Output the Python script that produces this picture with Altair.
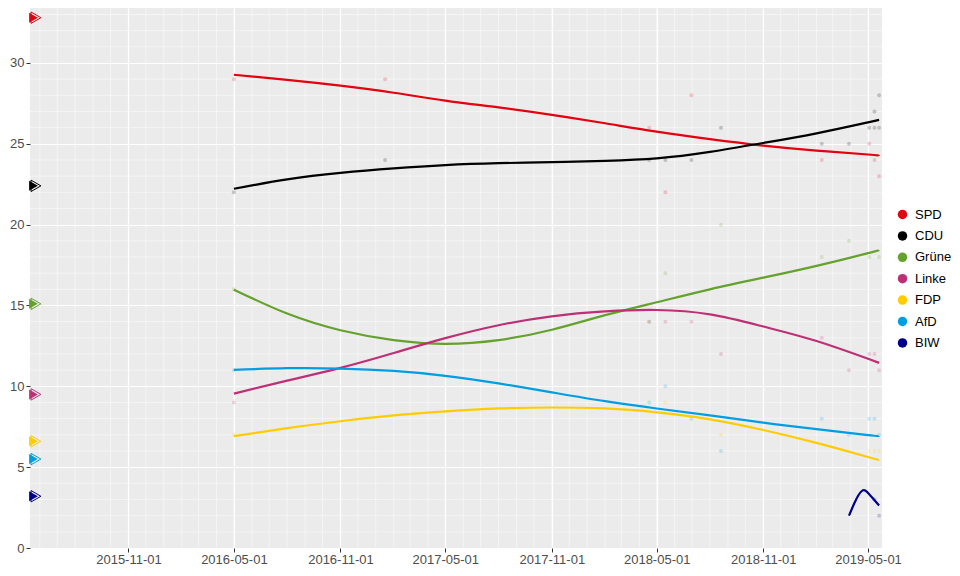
import altair as alt
import pandas as pd

parties = ["SPD", "CDU", "Grüne", "Linke", "FDP", "AfD", "BIW"]
party_colors = ["#E3000F", "#000000", "#64A12D", "#BE3075", "#FFCC00", "#009EE0", "#00008B"]

# 2015 election result markers
election_date = "2015-05-21"
election_result = [32.8, 22.4, 15.1, 9.5, 6.6, 5.5, 3.2]

# smoothed trends
trend_dates = ["2016-05-01", "2016-08-01", "2016-11-01", "2017-02-01", "2017-05-01",
               "2017-08-01", "2017-11-01", "2018-02-01", "2018-05-01", "2018-08-01",
               "2018-11-01", "2019-02-01", "2019-05-01", "2019-05-20"]
trend_spd = [29.27, 28.96, 28.6, 28.16, 27.67, 27.25, 26.79, 26.27, 25.75, 25.29, 24.89, 24.58, 24.34, 24.25]
trend_cdu = [22.22, 22.8, 23.2, 23.48, 23.68, 23.8, 23.87, 23.95, 24.1, 24.5, 25.05, 25.65, 26.33, 26.48]
trend_gruene = [15.98, 14.5, 13.47, 12.86, 12.63, 12.86, 13.5, 14.4, 15.2, 16.0, 16.72, 17.45, 18.24, 18.43]
trend_linke = [9.55, 10.35, 11.14, 12.06, 12.98, 13.78, 14.33, 14.63, 14.72, 14.45, 13.7, 12.8, 11.7, 11.45]
trend_fdp = [6.92, 7.41, 7.84, 8.2, 8.45, 8.63, 8.69, 8.63, 8.39, 7.96, 7.3, 6.5, 5.63, 5.45]
trend_afd = [11.02, 11.12, 11.1, 10.95, 10.65, 10.18, 9.63, 9.08, 8.63, 8.2, 7.75, 7.35, 6.98, 6.92]
biw_dates = ["2019-03-29", "2019-04-07", "2019-04-14", "2019-04-21", "2019-04-28", "2019-05-08", "2019-05-20"]
trend_biw = [2.0, 2.75, 3.25, 3.55, 3.5, 3.12, 2.63]

# individual polls (faint points)
poll_dates = ["2016-05-01"] * 6 + ["2017-01-17"] * 2 + ["2018-04-18"] * 5 + ["2018-05-16"] * 6 \
    + ["2018-06-30"] * 4 + ["2018-08-20"] * 5 + ["2019-02-10"] * 5 + ["2019-03-29"] * 4 \
    + ["2019-05-03"] * 6 + ["2019-05-12"] * 7 + ["2019-05-20"] * 8
poll_party = ["CDU", "SPD", "Grüne", "Linke", "FDP", "AfD",
              "SPD", "CDU",
              "SPD", "CDU", "Linke", "Grüne", "AfD",
              "CDU", "SPD", "Grüne", "AfD", "Linke", "FDP",
              "SPD", "CDU", "Linke", "AfD",
              "CDU", "Grüne", "Linke", "FDP", "AfD",
              "CDU", "SPD", "Grüne", "Linke", "AfD",
              "CDU", "Grüne", "Linke", "AfD",
              "CDU", "SPD", "Linke", "AfD", "Grüne", "FDP",
              "CDU", "CDU", "SPD", "Linke", "AfD", "FDP", "BIW",
              "CDU", "CDU", "SPD", "Grüne", "Linke", "AfD", "FDP", "BIW"]
poll_value = [22, 29, 16, 9, 7, 11,
              29, 24,
              26, 24, 14, 14, 9,
              24, 22, 17, 10, 14, 9,
              28, 24, 14, 8,
              26, 20, 12, 7, 6,
              25, 24, 18, 13, 8,
              25, 19, 11, 7,
              26, 25, 12, 8, 18, 6,
              26, 27, 24, 12, 8, 6, 3,
              28, 26, 23, 18, 11, 7, 6, 2]

x_ticks = ["2015-11-01", "2016-05-01", "2016-11-01", "2017-05-01", "2017-11-01",
           "2018-05-01", "2018-11-01", "2019-05-01"]
y_ticks = [0, 5, 10, 15, 20, 25, 30]


def dt(s):
    return alt.DateTime(year=int(s[:4]), month=int(s[5:7]), date=int(s[8:10]), utc=True)


trend_series = [trend_spd, trend_cdu, trend_gruene, trend_linke, trend_fdp, trend_afd]
rows = []
for p, vals in zip(parties[:6], trend_series):
    for d, v in zip(trend_dates, vals):
        rows.append({"date": d, "value": v, "party": p})
for d, v in zip(biw_dates, trend_biw):
    rows.append({"date": d, "value": v, "party": "BIW"})
trend_df = pd.DataFrame(rows)

poll_df = pd.DataFrame({"date": poll_dates, "party": poll_party, "value": poll_value})
elec_df = pd.DataFrame({"date": [election_date] * len(parties), "party": parties,
                        "value": election_result})

month_df = pd.DataFrame({"date": [d.strftime("%Y-%m-%d") for d in
                                  pd.date_range("2015-06-01", "2019-05-01", freq="MS")]})
unit_df = pd.DataFrame({"value": [v for v in range(0, 34) if v % 5 != 0]})

xscale = alt.Scale(type="utc", domain=[dt("2015-05-15"), dt("2019-05-25")])
xaxis = alt.Axis(values=[dt(s) for s in x_ticks], format="%Y-%m-%d", title=None,
                 grid=True, labelFlush=False, labelOverlap=False, labelPadding=1)
X = alt.X("date:T", scale=xscale, axis=xaxis)
yscale = alt.Scale(domain=[0, 33.4], nice=False, zero=False)
yaxis = alt.Axis(values=y_ticks, title=None, grid=True, labelPadding=2)
Y = alt.Y("value:Q", scale=yscale, axis=yaxis)
cscale = alt.Scale(domain=parties, range=party_colors)

vgrid = alt.Chart(month_df).mark_rule(color="white", strokeWidth=0.6, opacity=0.8).encode(x=X)
hgrid = alt.Chart(unit_df).mark_rule(color="white", strokeWidth=0.6, opacity=0.8).encode(y=Y)

polls = alt.Chart(poll_df).mark_point(filled=True, size=16, opacity=0.2).encode(
    x=X, y=Y,
    color=alt.Color("party:N", scale=cscale, sort=parties,
                    legend=alt.Legend(title=None, orient="none", legendX=866, legendY=200,
                                      symbolType="circle", symbolSize=90, symbolOpacity=1,
                                      symbolStrokeWidth=0, labelFontSize=13,
                                      labelColor="black", labelFont="Liberation Sans",
                                      labelOffset=6, rowPadding=7.4)))

trends = alt.Chart(trend_df).mark_line(strokeWidth=2.2, interpolate="natural").encode(
    x=X, y=Y, color=alt.Color("party:N", scale=cscale, legend=None))

tri_fill = alt.Chart(elec_df).mark_point(shape="triangle-right", filled=True, size=100,
                                         opacity=1).encode(
    x=X, y=Y, color=alt.Color("party:N", scale=cscale, legend=None))
tri_line = alt.Chart(elec_df).mark_point(shape="triangle-right", filled=False, size=130,
                                         strokeWidth=1, opacity=1, xOffset=2.5).encode(
    x=X, y=Y, color=alt.Color("party:N", scale=cscale, legend=None))

chart = alt.layer(vgrid, hgrid, polls, trends, tri_fill, tri_line).properties(
    width=852, height=540,
    padding={"left": 22, "top": 0, "right": 70, "bottom": 19},
    autosize=alt.AutoSizeParams(type="none"),
    background="white",
).configure_view(fill="#EBEBEB", stroke=None).configure_axis(
    domain=False, gridColor="white", gridWidth=1.2, tickColor="#333333", tickSize=4,
    tickWidth=1, labelColor="#4D4D4D", labelFontSize=13, labelFont="Liberation Sans",
)

chart.save("out.html", embed_options={"renderer": "svg", "actions": False})
